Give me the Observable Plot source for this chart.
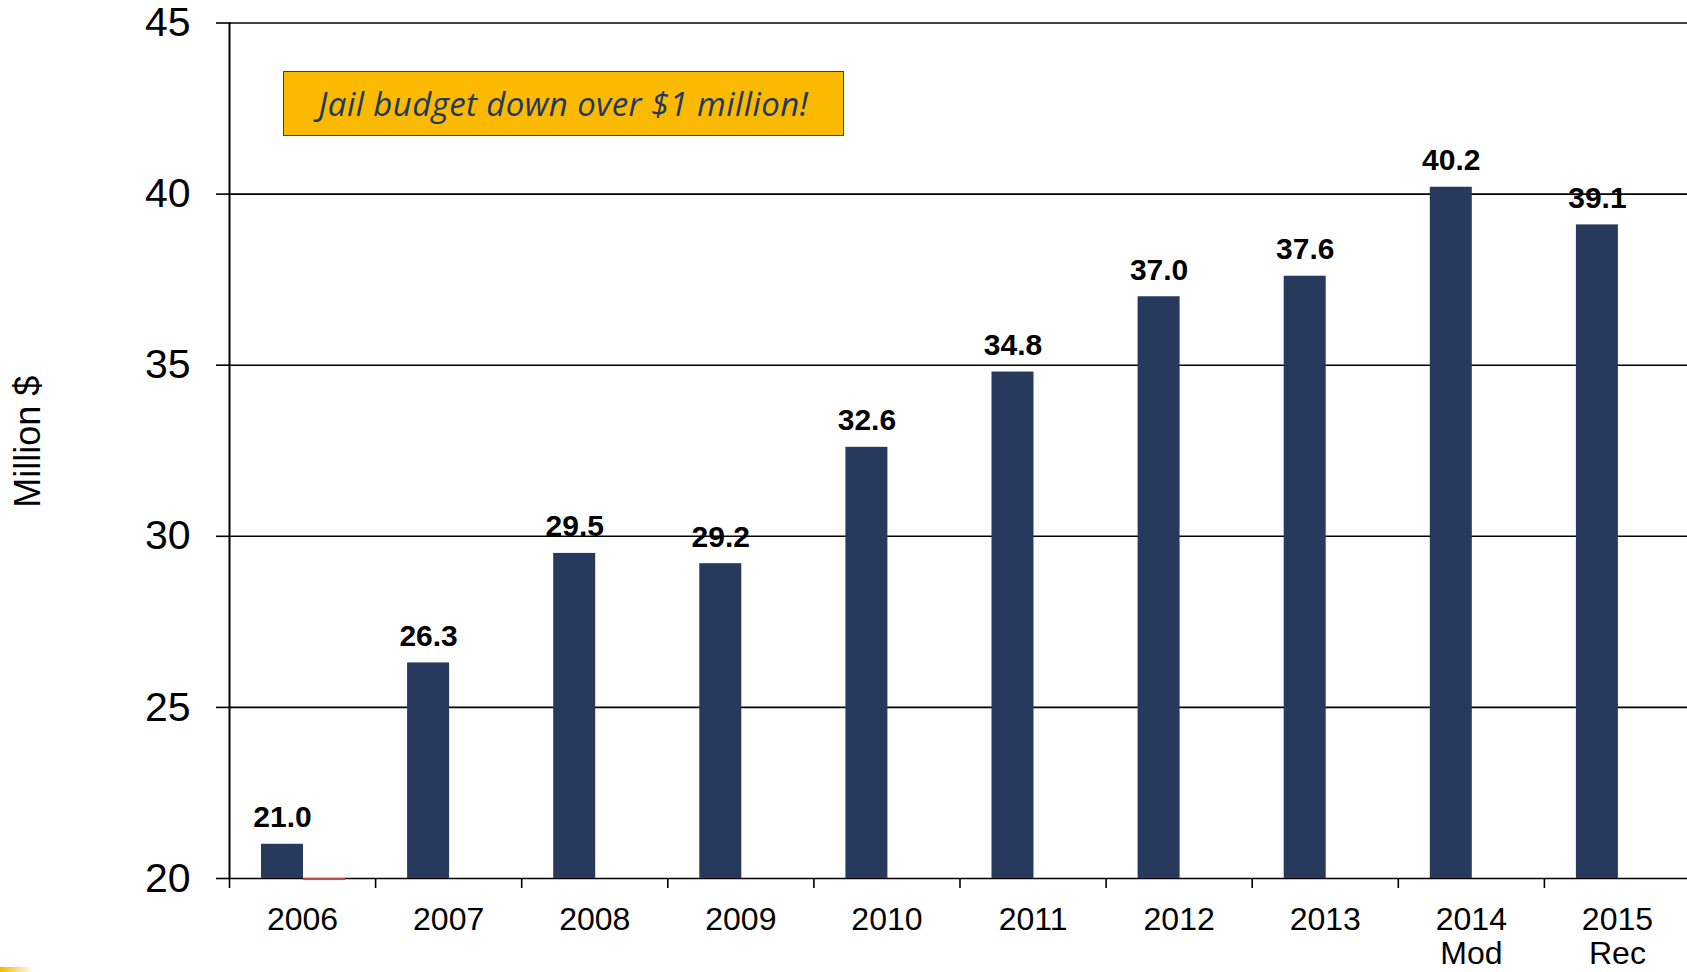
<!DOCTYPE html>
<html>
<head>
<meta charset="utf-8">
<script src="https://cdn.jsdelivr.net/npm/d3@7"></script>
<script src="https://cdn.jsdelivr.net/npm/@observablehq/plot@0.6"></script>
<style>
  html, body { margin: 0; padding: 0; background: #fff; }
  #wrap { position: relative; width: 1687px; height: 972px; overflow: hidden; }
  #note {
    position: absolute; left: 283px; top: 71px; width: 561px; height: 65px;
    background: #fbba00; border: 1.5px solid #404040; box-sizing: border-box;
    display: flex; align-items: center; justify-content: center;
    font-family: "Open Sans", sans-serif; font-style: italic; font-size: 33px;
    color: #1f3864; letter-spacing: 0.4px;
  }
  #swoosh {
    position: absolute; left: 0; top: 967px; width: 34px; height: 5px;
    background: linear-gradient(to right, #f5b800, rgba(255,220,120,0));
    border-top-right-radius: 5px;
  }
</style>
</head>
<body>
<div id="wrap"></div>
<script>
const years = ["2006", "2007", "2008", "2009", "2010", "2011", "2012", "2013", "2014\nMod", "2015\nRec"];
const budget = [21.0, 26.3, 29.5, 29.2, 32.6, 34.8, 37.0, 37.6, 40.2, 39.1];
const change = [19.94, null, null, null, null, null, null, null, null, null];
const yTicks = [20, 25, 30, 35, 40, 45];
const yDomain = [20, 45];
const annotation = "Jail budget down over $1 million!";
const yLabel = "Million $";

const n = years.length;
const rows = years.map((label, i) => ({i, label, budget: budget[i], change: change[i]}));
const centers = rows.map(d => d.i + 0.5);
const edges = d3.range(n + 1);

const W = 1687, H = 972;
const mL = 229, mR = -3, mT = 22.5, mB = H - 878;
const band = (W - mL - mR) / n;
const barW = 42, offset = 32;

const font = "'Liberation Sans', Arial, sans-serif";

const chart = Plot.plot({
  width: W,
  height: H,
  marginLeft: mL,
  marginRight: mR,
  marginTop: mT,
  marginBottom: mB,
  style: {fontFamily: font, background: "transparent", overflow: "visible"},
  x: {type: "linear", domain: [0, n], axis: null},
  y: {domain: yDomain, axis: null},
  marks: [
    Plot.gridY(yTicks, {stroke: "#000", strokeOpacity: 1, strokeWidth: 1.6}),
    Plot.rectY(rows, {
      x1: "i", x2: d => d.i + 1, y1: () => yDomain[0], y2: "budget",
      fill: "#273a5d", insetLeft: offset, insetRight: band - offset - barW
    }),
    Plot.rectY(rows.filter(d => d.change != null), {
      x1: "i", x2: d => d.i + 1, y1: () => yDomain[0], y2: "change",
      fill: "#c0504d", insetLeft: offset + barW, insetRight: band - offset - 2 * barW
    }),
    Plot.text(rows, {
      x: d => d.i + 0.5, y: "budget", text: d => d.budget.toFixed(1),
      dx: offset + barW / 2 - band / 2, dy: -17, lineAnchor: "bottom",
      fontSize: 30, fontWeight: "bold", fill: "#000"
    }),
    Plot.axisY({
      ticks: yTicks, tickSize: 13, tickPadding: 26, fontSize: 41,
      stroke: "#000", strokeWidth: 1.6, color: "#000", label: null
    }),
    Plot.ruleX([0], {y1: yDomain[0], y2: yDomain[1], stroke: "#000", strokeWidth: 2}),
    Plot.axisX({
      ticks: edges, tickSize: 10, tickFormat: () => "", stroke: "#000", strokeWidth: 1.6, label: null
    }),
    Plot.axisX({
      ticks: centers, tickSize: 0, tickPadding: 27, fontSize: 32, lineHeight: 1.07,
      tickFormat: x => years[Math.round(x - 0.5)], color: "#000", label: null
    }),
    Plot.text([yLabel], {
      frameAnchor: "left", textAnchor: "middle", rotate: -90, dx: -201, dy: -9, fontSize: 36, fill: "#000"
    })
  ]
});

const wrap = document.getElementById("wrap");
wrap.appendChild(chart);
const note = document.createElement("div");
note.id = "note";
note.textContent = annotation;
wrap.appendChild(note);
const sw = document.createElement("div");
sw.id = "swoosh";
wrap.appendChild(sw);
</script>
</body>
</html>
